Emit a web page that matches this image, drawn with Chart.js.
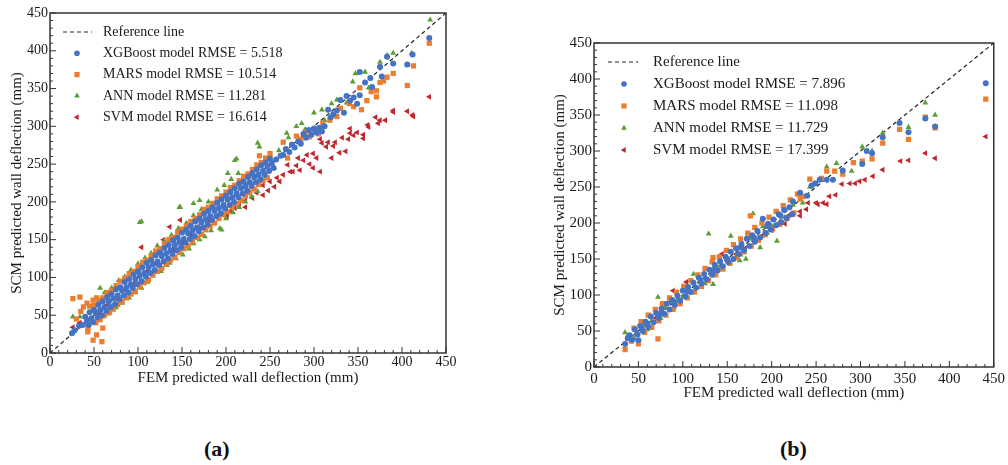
<!DOCTYPE html>
<html>
<head>
<meta charset="utf-8">
<script src="https://cdn.jsdelivr.net/npm/chart.js@4.4.0/dist/chart.umd.min.js"></script>
<style>
  body { margin: 0; background: #fff; }
  #wrap { position: relative; width: 1008px; height: 465px; overflow: hidden; font-family: "Liberation Serif", serif; }
  .panel { position: absolute; top: 0; }
  #panelA { left: 0; width: 460px; height: 400px; }
  #panelB { left: 540px; width: 468px; height: 420px; }
  .tag { position: absolute; top: 436px; font-weight: bold; font-size: 22px; color: #111; }
</style>
</head>
<body>
<div id="wrap">
  <div class="panel" id="panelA"><canvas id="chartA"></canvas></div>
  <div class="panel" id="panelB"><canvas id="chartB"></canvas></div>
  <div class="tag" style="left:204px">(a)</div>
  <div class="tag" style="left:780px">(b)</div>
</div>
<script>
// axis range and labels
const axisMax = 450;
const tickStep = 50;
const xTitle = 'FEM predicted wall deflection (mm)';
const yTitle = 'SCM predicted wall deflection (mm)';
const referenceLine = [[0, 0], [450, 450]];

const legendA = ['Reference line', 'XGBoost model RMSE = 5.518', 'MARS model RMSE = 10.514', 'ANN model RMSE = 11.281', 'SVM model RMSE = 16.614'];
const legendB = ['Reference line', 'XGBoost model RMSE = 7.896', 'MARS model RMSE = 11.098', 'ANN model RMSE = 11.729', 'SVM model RMSE = 17.399'];

// panel (a): [FEM, SCM] pairs
const xgbA = [
  [25,26],[28,30],[33,36],[37,37],[40,48],[44,37],[42,42],[45,54],[47,46],[49,41],[50,57],[52,53],[54,47],[55,64],[57,57],[59,50],
  [60,68],[62,61],[64,56],[65,74],[67,68],[69,61],[70,78],[72,72],[74,65],[75,84],[77,76],[79,71],[80,87],[82,83],[84,76],[85,94],
  [87,87],[89,80],[90,98],[92,91],[94,86],[95,104],[97,98],[99,91],[100,108],[102,102],[104,95],[105,113],[107,106],[109,101],[110,119],
  [112,113],[114,106],[115,123],[117,117],[119,110],[120,129],[122,121],[124,116],[125,133],[127,128],[129,121],[130,139],[132,132],
  [134,125],[135,143],[137,136],[139,131],[140,149],[142,143],[144,136],[145,153],[147,147],[149,140],[150,159],[152,151],[154,146],
  [155,163],[157,158],[159,151],[160,168],[162,162],[164,155],[165,174],[167,166],[169,161],[170,178],[172,173],[174,166],[175,184],
  [177,177],[179,170],[180,188],[182,181],[184,176],[185,193],[187,188],[189,181],[190,199],[192,192],[194,185],[195,203],[197,196],
  [199,191],[200,208],[202,203],[204,196],[205,213],[207,206],[209,200],[210,218],[212,211],[214,206],[215,224],[217,218],[219,211],
  [220,227],[222,221],[224,215],[225,233],[227,226],[229,221],[230,238],[232,233],[234,226],[235,243],[237,236],[239,230],[240,248],
  [242,241],[244,236],[245,252],[247,247],[249,241],[250,257],[252,251],[254,245],[257,256],[262,261],[265,262],[268,270],[272,266],
  [275,276],[278,272],[282,280],[285,277],[288,290],[291,285],[294,295],[297,289],[300,297],[303,292],[306,298],[309,293],[312,300],
  [316,322],[319,312],[322,316],[326,321],[330,335],[334,318],[337,340],[341,334],[345,338],[349,330],[352,341],[352,372],[358,358],
  [364,364],[366,352],[375,379],[377,366],[383,392],[390,383],[406,382],[412,395],[431,417]
];
const marsA = [
  [26,72],[34,74],[42,66],[49,70],[53,73],[38,61],[30,45],[35,55],[42,40],[43,28],[43,33],[49,17],[53,24],[59,15],[60,33],
  [45,62],[50,63],[55,70],[60,73],[65,80],[70,83],[75,89],[80,95],[85,99],[90,105],[95,108],[100,114],[105,120],[110,123],[115,129],
  [120,135],[125,138],[130,144],[135,150],[140,153],[145,160],[150,164],[155,168],[160,174],[165,178],[170,183],[175,190],[180,193],
  [185,198],[190,204],[195,208],[200,213],[205,219],[210,222],[215,228],[220,234],[225,237],[230,243],[235,249],[240,252],[245,258],
  [250,264],[52,40],[57,44],[62,50],[67,53],[72,58],[77,64],[82,68],[87,73],[92,78],[97,82],[102,88],[107,93],[112,97],[117,103],
  [122,108],[127,112],[132,118],[137,123],[142,127],[147,133],[152,138],[157,142],[162,148],[167,153],[172,157],[177,163],[182,168],
  [187,172],[192,178],[197,183],[202,187],[207,193],[212,198],[217,202],[222,208],[227,213],[232,217],[237,223],[242,228],[247,232],
  [238,261],[265,279],[270,258],[280,287],[285,283],[290,292],[295,286],[300,295],[305,290],[310,304],[318,308],[326,313],[330,324],
  [340,330],[345,326],[352,351],[354,322],[360,334],[365,346],[371,347],[371,339],[375,358],[379,360],[383,365],[390,370],[406,354],
  [413,380],[431,410]
];
const annA = [
  [26,48],[34,48],[57,86],[60,48],[68,54],[75,60],[82,66],[90,73],[97,80],[104,86],[111,94],[119,107],[126,108],[133,116],[136,119],
  [143,125],[151,130],[158,138],[163,145],[170,150],[176,154],[183,162],[193,165],[195,163],[200,178],[208,186],[215,193],[222,200],
  [229,207],[236,214],[55,70],[62,80],[70,86],[78,96],[85,101],[92,110],[100,118],[108,126],[115,132],[122,142],[130,148],[138,156],
  [146,165],[155,172],[163,182],[172,190],[180,200],[190,216],[198,222],[206,230],[214,238],[102,173],[104,174],[147,193],[148,193],
  [163,198],[170,202],[202,238],[210,255],[212,257],[236,278],[238,273],[245,232],[250,262],[255,245],[260,268],[269,291],[271,285],
  [280,300],[286,304],[290,296],[300,318],[309,322],[312,308],[320,330],[326,335],[337,331],[344,359],[347,370],[358,372],[362,351],
  [375,385],[383,394],[390,397],[406,381],[411,397],[432,441]
];
const svmA = [
  [26,34],[34,40],[45,45],[55,52],[65,64],[75,72],[85,84],[95,92],[104,140],[110,108],[120,118],[129,150],[136,167],[148,176],
  [140,136],[150,146],[160,156],[170,165],[180,175],[190,182],[201,180],[201,183],[205,188],[210,192],[215,195],[222,193],[222,202],
  [225,212],[230,205],[235,212],[242,209],[242,222],[248,215],[250,227],[255,220],[258,232],[261,227],[265,236],[270,249],[273,240],
  [276,240],[280,248],[282,258],[284,242],[288,255],[292,262],[295,250],[299,245],[299,264],[303,258],[307,240],[307,283],[309,278],
  [314,273],[316,279],[320,258],[322,274],[324,279],[329,265],[332,285],[336,267],[339,283],[341,291],[341,297],[345,288],[349,292],
  [356,289],[356,284],[361,302],[362,299],[370,312],[373,304],[375,308],[381,308],[390,321],[390,319],[406,320],[412,315],[413,313],
  [431,339]
];

// panel (b): [FEM, SCM] pairs
const xgbB = [
  [40,44],[46,52],[52,57],[58,63],[64,70],[70,75],[76,81],[82,88],[88,93],[94,99],[100,106],[106,111],[112,117],[118,124],[124,129],
  [130,135],[136,142],[142,147],[148,153],[154,160],[160,165],[166,171],[172,178],[178,183],[184,189],[190,206],[196,199],[202,205],
  [208,212],[214,218],[220,222],[35,32],[43,38],[49,45],[55,50],[61,56],[67,62],[73,68],[79,74],[85,80],[91,86],[97,92],[103,98],
  [109,104],[115,110],[121,116],[127,122],[133,128],[139,134],[145,140],[151,146],[157,150],[163,157],[169,162],[175,168],[181,174],
  [187,180],[193,186],[199,191],[205,197],[211,201],[217,207],[223,212],[50,37],[38,40],[60,60],[75,74],[90,90],[105,105],[120,121],
  [135,135],[150,150],[165,166],[180,180],[195,196],[210,210],[224,230],[232,242],[240,238],[245,252],[249,255],[254,260],[262,260],
  [269,260],[280,273],[302,282],[307,300],[313,297],[325,319],[344,339],[354,326],[373,345],[384,334],[441,394]
];
const marsB = [
  [38,40],[45,54],[53,63],[61,72],[69,80],[77,88],[85,96],[93,104],[101,112],[109,120],[117,128],[125,137],[133,146],[141,153],
  [149,162],[157,170],[165,178],[176,210],[173,186],[181,194],[189,200],[197,208],[205,216],[213,224],[221,232],[229,240],[235,237],
  [35,24],[50,32],[72,39],[42,36],[57,48],[65,55],[73,64],[81,72],[89,80],[97,88],[105,96],[113,104],[121,112],[129,120],[134,152],
  [137,128],[145,136],[153,144],[161,152],[169,160],[177,168],[185,176],[193,184],[201,192],[209,198],[217,206],[225,214],[232,233],
  [243,261],[256,262],[262,272],[271,272],[280,268],[292,284],[302,286],[313,289],[325,311],[344,330],[354,316],[373,347],[384,332],
  [441,372]
];
const annB = [
  [35,48],[72,97],[80,83],[93,92],[112,129],[129,185],[134,115],[153,145],[154,182],[164,148],[171,150],[179,213],[187,166],[206,175],
  [45,40],[55,58],[65,64],[85,90],[100,97],[120,118],[140,138],[160,155],[175,178],[190,195],[200,196],[215,208],[224,225],[235,228],
  [248,255],[273,283],[290,272],[302,306],[313,300],[325,325],[354,333],[373,367],[384,350],[243,250],[262,278],[60,52],[75,68],
  [90,82],[105,97],[125,116],[145,136],[165,156],[185,176],[195,186],[210,203]
];
const svmB = [
  [40,42],[55,54],[70,68],[89,106],[104,118],[120,119],[135,133],[144,157],[150,148],[160,157],[170,165],[180,175],[190,183],[200,190],
  [209,201],[215,199],[220,211],[224,212],[232,210],[232,216],[239,219],[241,228],[250,228],[252,226],[258,228],[262,226],[265,237],
  [272,239],[279,254],[288,255],[294,255],[299,258],[305,260],[314,265],[325,274],[345,286],[354,287],[373,297],[384,290],[441,320]
];

const colors = { xgb: '#4472c4', mars: '#ea7d2f', ann: '#5b9f34', svm: '#c0272e', line: '#222' };

function toPoints(arr) {
  return arr.map(p => ({ x: p[0], y: p[1] }));
}

// small marker used in the legend
function drawMarker(ctx, kind, x, y) {
  ctx.beginPath();
  if (kind === 'circle') {
    ctx.arc(x, y, 2.8, 0, Math.PI * 2);
  } else if (kind === 'rect') {
    ctx.rect(x - 2.6, y - 2.6, 5.2, 5.2);
  } else if (kind === 'up') {
    ctx.moveTo(x, y - 3.3); ctx.lineTo(x + 2.9, y + 1.7); ctx.lineTo(x - 2.9, y + 1.7);
  } else {
    ctx.moveTo(x - 3.3, y); ctx.lineTo(x + 1.7, y - 2.9); ctx.lineTo(x + 1.7, y + 2.9);
  }
  ctx.closePath();
  ctx.fill();
}

// box round the plot plus inward major/minor ticks
const frameAndTicks = {
  id: 'frameAndTicks',
  afterDatasetsDraw(chart) {
    const { ctx, chartArea: a, scales } = chart;
    ctx.save();
    ctx.strokeStyle = '#333';
    ctx.lineWidth = 1;
    for (let v = 0; v <= axisMax; v += 10) {
      const len = v % tickStep === 0 ? 6 : 3;
      const px = scales.x.getPixelForValue(v);
      const py = scales.y.getPixelForValue(v);
      ctx.beginPath();
      ctx.moveTo(px, a.bottom); ctx.lineTo(px, a.bottom - len);
      ctx.moveTo(a.left, py); ctx.lineTo(a.left + len, py);
      ctx.stroke();
    }
    ctx.lineWidth = 1.5;
    ctx.strokeRect(a.left, a.top, a.right - a.left, a.bottom - a.top);
    ctx.restore();
  }
};

// legend drawn inside the plot area, top left
function insideLegend(texts, fontSize, lay) {
  return {
    id: 'insideLegend',
    afterDraw(chart) {
      const { ctx, chartArea: a } = chart;
      const kinds = ['line', 'circle', 'rect', 'up', 'left'];
      const fills = [colors.line, colors.xgb, colors.mars, colors.ann, colors.svm];
      ctx.save();
      ctx.font = fontSize + 'px "Liberation Serif"';
      ctx.textBaseline = 'middle';
      texts.forEach((t, i) => {
        const y = a.top + lay.first + i * lay.gap;
        ctx.fillStyle = fills[i];
        if (kinds[i] === 'line') {
          ctx.strokeStyle = colors.line;
          ctx.lineWidth = 1.2;
          ctx.setLineDash([4, 3]);
          ctx.beginPath();
          ctx.moveTo(a.left + lay.dash0, y); ctx.lineTo(a.left + lay.dash1, y);
          ctx.stroke();
          ctx.setLineDash([]);
        } else {
          drawMarker(ctx, kinds[i], a.left + lay.mark, y);
        }
        ctx.fillStyle = '#1a1a1a';
        ctx.fillText(t, a.left + lay.text, y);
      });
      ctx.restore();
    }
  };
}

function makePanel(id, sets, texts, sz) {
  const tickFont = { family: 'Liberation Serif', size: sz.tick };
  const titleFont = { family: 'Liberation Serif', size: sz.title };
  const series = (data, style, radius, rotation, color, order) => ({
    data: toPoints(data), pointStyle: style, pointRadius: radius, pointRotation: rotation,
    backgroundColor: color, borderWidth: 0, order: order
  });
  new Chart(document.getElementById(id), {
    type: 'scatter',
    data: {
      datasets: [
        { data: toPoints(referenceLine), showLine: true, borderColor: colors.line, borderWidth: 1.2,
          borderDash: [4, 3], pointRadius: 0, order: 10 },
        series(sets[0], 'circle', 3.0, 0, colors.xgb, 1),
        series(sets[1], 'rect', 3.7, 0, colors.mars, 2),
        series(sets[2], 'triangle', 3.4, 0, colors.ann, 3),
        series(sets[3], 'triangle', 3.4, -90, colors.svm, 4)
      ]
    },
    options: {
      responsive: true,
      maintainAspectRatio: false,
      animation: false,
      events: [],
      layout: { padding: { top: sz.top, right: sz.right, left: 0, bottom: 0 } },
      plugins: { legend: { display: false }, tooltip: { enabled: false } },
      scales: {
        x: {
          min: 0, max: axisMax,
          grid: { display: false, drawTicks: false }, border: { display: false },
          ticks: { stepSize: tickStep, font: tickFont, color: '#1a1a1a', padding: sz.xPad, maxRotation: 0 },
          title: { display: true, text: xTitle, font: titleFont, color: '#1a1a1a', padding: { top: 0, bottom: sz.xTitlePad } },
          afterFit: s => { s.height = sz.xH; }
        },
        y: {
          min: 0, max: axisMax,
          grid: { display: false, drawTicks: false }, border: { display: false },
          ticks: { stepSize: tickStep, font: tickFont, color: '#1a1a1a', padding: 2 },
          title: { display: true, text: yTitle, font: titleFont, color: '#1a1a1a', padding: { top: sz.yTitlePad, bottom: 0 } },
          afterFit: s => { s.width = sz.yW; }
        }
      }
    },
    plugins: [frameAndTicks, insideLegend(texts, sz.legend, sz.lay)]
  });
}

makePanel('chartA', [xgbA, marsA, annA, svmA], legendA, {
  tick: 14, title: 15, legend: 14, top: 13, right: 14, xH: 47, yW: 50, xPad: 1, xTitlePad: 13, yTitlePad: 8,
  lay: { first: 19, gap: 21.3, dash0: 13, dash1: 42, mark: 27, text: 53 }
});
makePanel('chartB', [xgbB, marsB, annB, svmB], legendB, {
  tick: 15, title: 15, legend: 15, top: 43, right: 14, xH: 53, yW: 54, xPad: 3, xTitlePad: 18, yTitlePad: 11,
  lay: { first: 19, gap: 22, dash0: 14, dash1: 44, mark: 30, text: 59 }
});
</script>
</body>
</html>
